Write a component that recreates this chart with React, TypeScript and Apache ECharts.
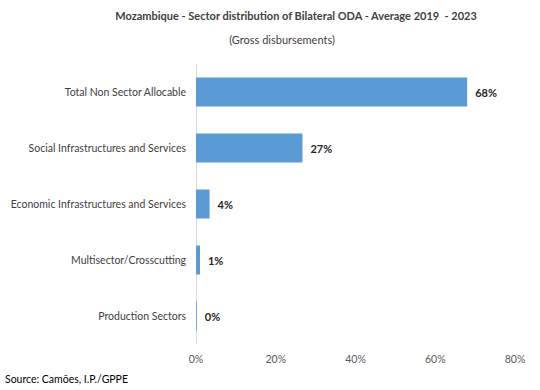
import React, { useEffect, useRef } from "react";
import * as echarts from "echarts";

const categories = [
  "Production Sectors",
  "Multisector/Crosscutting",
  "Economic Infrastructures and Services",
  "Social Infrastructures and Services",
  "Total Non Sector Allocable",
];
const values = [0.2, 1.0, 3.4, 26.7, 68.0];
const valueLabels = ["0%", "1%", "4%", "27%", "68%"];
const xTicks = [0, 20, 40, 60, 80];

const FONT = "Lato, 'Open Sans', sans-serif";

export default function App() {
  const ref = useRef<HTMLDivElement>(null);
  useEffect(() => {
    if (!ref.current) return;
    const chart = echarts.init(ref.current, null, { renderer: "svg" });
    chart.setOption({
      animation: false,
      textStyle: { fontFamily: FONT },
      title: [
        {
          text: "Mozambique - Sector distribution of Bilateral ODA - Average 2019  - 2023",
          left: 296,
          textAlign: "center",
          top: 10,
          padding: 0,
          textStyle: { fontSize: 11, fontWeight: "bold", color: "#404040", fontFamily: FONT },
        },
        {
          text: "(Gross disbursements)",
          left: 282,
          textAlign: "center",
          top: 34,
          padding: 0,
          textStyle: { fontSize: 11, fontWeight: "normal", color: "#404040", fontFamily: FONT },
        },
        {
          text: "Source: Camões, I.P./GPPE",
          left: 5,
          top: 373,
          padding: 0,
          textStyle: { fontSize: 10.5, fontWeight: "normal", color: "#000000", fontFamily: FONT },
        },
      ],
      grid: { left: 196, right: 25, top: 64, bottom: 46 },
      xAxis: {
        type: "value",
        min: 0,
        max: 80,
        interval: 20,
        axisLine: { show: false },
        axisTick: { show: false },
        splitLine: { show: false },
        axisLabel: {
          formatter: (v: number) => (xTicks.includes(v) ? v + "%" : ""),
          color: "#595959",
          fontSize: 10.5,
          margin: 9,
          fontFamily: FONT,
        },
      },
      yAxis: {
        type: "category",
        data: categories,
        axisLine: { show: true, lineStyle: { color: "#d9d9d9", width: 1 } },
        axisTick: { show: false },
        axisLabel: { color: "#404040", fontSize: 10.5, margin: 10, fontFamily: FONT },
      },
      series: [
        {
          type: "bar",
          data: values,
          barWidth: 29,
          itemStyle: { color: "#5B9BD5" },
          label: {
            show: true,
            position: "right",
            distance: 8,
            formatter: (p: any) => valueLabels[p.dataIndex],
            color: "#262626",
            fontWeight: "bold",
            fontSize: 11,
            fontFamily: FONT,
          },
        },
      ],
    });
    return () => chart.dispose();
  }, []);
  return (
    <div
      ref={ref}
      style={{ position: "absolute", left: 0, top: 0, width: 540, height: 390 }}
    />
  );
}
